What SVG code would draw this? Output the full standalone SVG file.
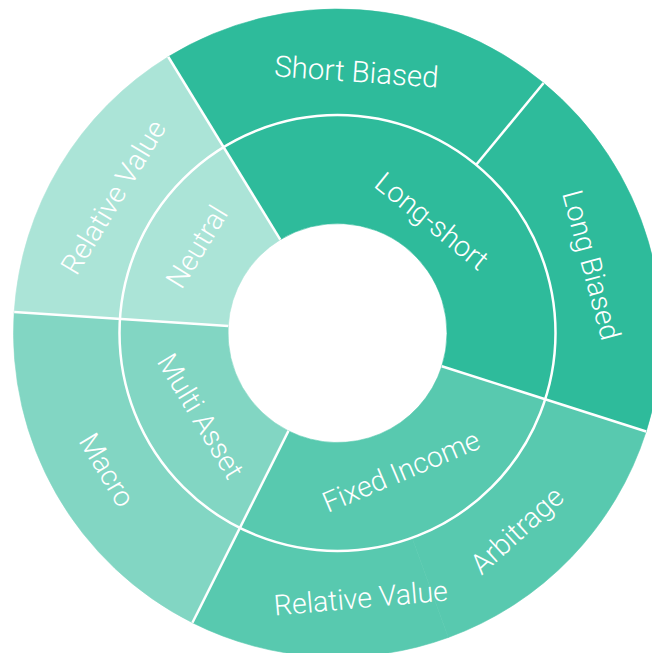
<svg xmlns="http://www.w3.org/2000/svg" width="652" height="653" viewBox="0 0 652 653">
<style>
.c1{fill:#2ebb9b;stroke:#2ebb9b;stroke-width:0.6}
.c2{fill:#58c9af;stroke:#58c9af;stroke-width:0.6}
.c3{fill:#82d6c3;stroke:#82d6c3;stroke-width:0.6}
.c4{fill:#abe4d7;stroke:#abe4d7;stroke-width:0.6}
text{font-family:Roboto,"Open Sans","Liberation Sans",sans-serif;font-size:28.5px;font-weight:300;fill:#ffffff;text-anchor:middle}
.div{stroke:#ffffff;stroke-width:2.5;fill:none}
</style>
<rect width="652" height="653" fill="#ffffff"/>
<g id="long-short"><path class="c1" d="M 223.59 147.13 A 218 218 0 0 1 545.19 399.27 L 441.82 366.29 A 109.5 109.5 0 0 0 280.29 239.64 Z"/><text transform="translate(432 221) rotate(39)" dy="0.35em">Long-short</text></g>
<g id="fixed-income"><path class="c2" d="M 545.19 399.27 A 218 218 0 0 1 239.88 527.94 L 288.47 430.91 A 109.5 109.5 0 0 0 441.82 366.29 Z"/><text transform="translate(401 471) rotate(-23)" dy="0.35em">Fixed Income</text></g>
<g id="multi-asset"><path class="c3" d="M 239.88 527.94 A 218 218 0 0 1 119.96 318.94 L 228.23 325.94 A 109.5 109.5 0 0 0 288.47 430.91 Z"/><text transform="translate(200.7 416) rotate(59)" dy="0.35em">Multi Asset</text></g>
<g id="neutral"><path class="c4" d="M 119.96 318.94 A 218 218 0 0 1 223.59 147.13 L 280.29 239.64 A 109.5 109.5 0 0 0 228.23 325.94 Z"/><text transform="translate(196.7 246.7) rotate(-58.5)" dy="0.35em">Neutral</text></g>
<g id="short-biased"><path class="c1" d="M 168.21 56.76 A 324 324 0 0 1 543.60 83.0 L 476.17 164.79 A 218 218 0 0 0 223.59 147.13 Z"/><text transform="translate(356.5 71.6) rotate(4)" dy="0.35em" style="font-size:29.5px">Short Biased</text></g>
<g id="long-biased"><path class="c1" d="M 543.60 83.0 A 324 324 0 0 1 646.17 431.50 L 545.19 399.27 A 218 218 0 0 0 476.17 164.79 Z"/><text transform="translate(591.5 264.9) rotate(75)" dy="0.35em">Long Biased</text></g>
<g id="arbitrage"><path class="c2" d="M 646.17 431.50 A 324 324 0 0 1 448.31 637.46 L 412.06 537.85 A 218 218 0 0 0 545.19 399.27 Z"/><text transform="translate(516.8 530.2) rotate(-42.3)" dy="0.35em">Arbitrage</text></g>
<g id="relative-value-fi"><path class="c2" d="M 448.31 637.46 A 324 324 0 0 1 192.41 622.72 L 239.88 527.94 A 218 218 0 0 0 412.06 537.85 Z"/><text transform="translate(360.7 598) rotate(-5)" dy="0.35em">Relative Value</text></g>
<g id="macro"><path class="c3" d="M 192.41 622.72 A 324 324 0 0 1 14.18 312.10 L 119.96 318.94 A 218 218 0 0 0 239.88 527.94 Z"/><text transform="translate(107.1 469.9) rotate(59.3)" dy="0.35em">Macro</text></g>
<g id="relative-value-neutral"><path class="c4" d="M 14.18 312.10 A 324 324 0 0 1 168.21 56.76 L 223.59 147.13 A 218 218 0 0 0 119.96 318.94 Z"/><text transform="translate(113.1 197) rotate(-58.8)" dy="0.35em">Relative Value</text></g>
<g id="connectors">
<circle class="div" cx="337.5" cy="333" r="218"/>
<line class="div" x1="280.29" y1="239.64" x2="168.21" y2="56.76"/>
<line class="div" x1="476.17" y1="164.79" x2="543.60" y2="83.0"/>
<line class="div" x1="441.82" y1="366.29" x2="646.17" y2="431.50"/>
<line class="div" x1="288.47" y1="430.91" x2="192.41" y2="622.72"/>
<line class="div" x1="228.23" y1="325.94" x2="14.18" y2="312.10"/>
</g>
</svg>
